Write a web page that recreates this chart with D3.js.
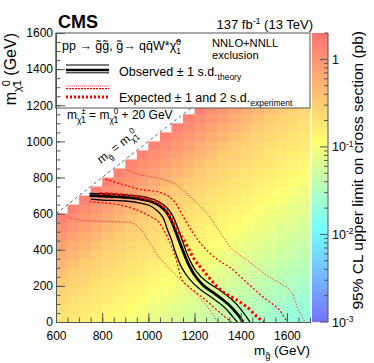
<!DOCTYPE html>
<html>
<head>
<meta charset="utf-8">
<script src="https://cdn.jsdelivr.net/npm/d3@7"></script>
<style>
  body { margin: 0; background: #fff; }
  text { font-family: "Liberation Sans", Arial, Helvetica, sans-serif; fill: #000; }
</style>
</head>
<body>
<svg id="chart" width="374" height="363"></svg>
<script>
// bins (lower edges, GeV) of the limit map, 50 GeV wide
var gluinoBins = [600,650,700,750,800,850,900,950,1000,1050,1100,1150,1200,1250,1300,1350,1400,1450,1500,1550,1600,1650];
var lspBins = [0,50,100,150,200,250,300,350,400,450,500,550,600,650,700,750,800,850,900,950,1000,1050,1100,1150];
// 95% CL upper limit (pb), one row per lsp bin, one entry per gluino bin
var limitRows = [
  [.20,.18,.16,.14,.13,.11,.10,.089,.079,.071,.063,.056,.050,.045,.040,.035,.032,.028,.025,.022,.020,.018],
  [.22,.20,.18,.16,.14,.13,.11,.10,.089,.079,.071,.063,.056,.050,.045,.040,.035,.032,.028,.025,.022,.020],
  [.25,.22,.20,.18,.16,.14,.13,.11,.10,.089,.079,.071,.063,.056,.050,.045,.040,.035,.032,.028,.025,.022],
  [.28,.25,.22,.20,.18,.16,.14,.13,.11,.10,.089,.079,.071,.063,.056,.050,.045,.040,.035,.032,.028,.025],
  [.32,.28,.25,.22,.20,.18,.16,.14,.13,.11,.10,.089,.079,.071,.063,.056,.050,.045,.040,.035,.032,.028],
  [.39,.32,.28,.25,.22,.20,.18,.16,.14,.13,.11,.10,.089,.079,.071,.063,.056,.050,.045,.040,.035,.032],
  [.49,.39,.32,.28,.25,.22,.20,.18,.16,.14,.13,.11,.10,.089,.079,.071,.063,.056,.050,.045,.040,.035],
  [.60,.49,.39,.32,.28,.25,.22,.20,.18,.16,.14,.13,.11,.10,.089,.079,.071,.063,.056,.050,.045,.040],
  [.76,.60,.49,.39,.32,.28,.25,.22,.20,.18,.16,.14,.13,.11,.10,.089,.079,.071,.063,.056,.050,.045],
  [.93,.76,.60,.49,.39,.32,.28,.25,.22,.20,.18,.16,.14,.13,.11,.10,.089,.079,.071,.063,.056,.050],
  [1.15,.93,.76,.60,.49,.39,.32,.28,.25,.22,.20,.18,.16,.14,.13,.11,.10,.089,.079,.071,.063,.056],
  [1.45,1.15,.93,.76,.60,.49,.39,.32,.28,.25,.22,.20,.18,.16,.14,.13,.11,.10,.089,.079,.071,.063],
  [null,1.45,1.15,.93,.76,.60,.49,.39,.32,.28,.25,.22,.20,.18,.16,.14,.13,.11,.10,.089,.079,.071],
  [null,null,1.45,1.15,.93,.76,.60,.49,.39,.32,.28,.25,.22,.20,.18,.16,.14,.13,.11,.10,.089,.079],
  [null,null,null,1.45,1.15,.93,.76,.60,.49,.39,.32,.28,.25,.22,.20,.18,.16,.14,.13,.11,.10,.089],
  [null,null,null,null,1.45,1.15,.93,.76,.60,.49,.39,.32,.28,.25,.22,.20,.18,.16,.14,.13,.11,.10],
  [null,null,null,null,null,1.45,1.15,.93,.76,.60,.49,.39,.32,.28,.25,.22,.20,.18,.16,.14,.13,.11],
  [null,null,null,null,null,null,1.45,1.15,.93,.76,.60,.49,.39,.32,.28,.25,.22,.20,.18,.16,.14,.13],
  [null,null,null,null,null,null,null,1.45,1.15,.93,.76,.60,.49,.39,.32,.28,.25,.22,.20,.18,.16,.14],
  [null,null,null,null,null,null,null,null,1.45,1.15,.93,.76,.60,.49,.39,.32,.28,.25,.22,.20,.18,.16],
  [null,null,null,null,null,null,null,null,null,1.45,1.15,.93,.76,.60,.49,.39,.32,.28,.25,.22,.20,.18],
  [null,null,null,null,null,null,null,null,null,null,1.45,1.15,.93,.76,.60,.49,.39,.32,.28,.25,.22,.20],
  [null,null,null,null,null,null,null,null,null,null,null,1.45,1.15,.93,.76,.60,.49,.39,.32,.28,.25,.22],
  [null,null,null,null,null,null,null,null,null,null,null,null,1.45,1.15,.93,.76,.60,.49,.39,.32,.28,.25]
];
var binWidth = 50;

// exclusion contours [m_gluino, m_lsp]
var observed = [[745,700],[800,697],[900,690],[960,682],[1010,668],[1050,643],[1080,605],[1100,560],[1120,495],[1145,410],[1170,330],[1200,260],[1240,200],[1290,155],[1345,100],[1385,45],[1410,0]];
var observedUp = [[745,712],[800,710],[900,703],[970,695],[1030,675],[1070,645],[1100,600],[1125,530],[1150,440],[1175,355],[1205,285],[1250,225],[1305,180],[1365,120],[1410,55],[1440,0]];
var observedDown = [[750,680],[800,675],[900,670],[960,660],[1005,645],[1040,615],[1065,575],[1080,520],[1100,455],[1120,375],[1145,300],[1180,235],[1225,180],[1280,130],[1330,80],[1365,30],[1385,0]];
var expected = [[790,712],[850,708],[920,700],[970,688],[1020,672],[1055,650],[1080,615],[1100,570],[1120,520],[1140,480],[1170,415],[1200,345],[1235,290],[1280,220],[1325,165],[1385,120],[1430,80],[1470,30],[1500,0]];
var expectedUp1 = [[815,790],[880,765],[960,735],[1050,718],[1105,678],[1150,585],[1195,490],[1240,415],[1300,345],[1355,300],[1425,220],[1495,140],[1565,70],[1600,0]];
var expectedDown1 = [[745,668],[800,660],[880,648],[960,615],[1000,590],[1040,560],[1070,500],[1095,435],[1115,370],[1130,300],[1145,235],[1175,195],[1210,160],[1250,120],[1285,80],[1320,40],[1360,0]];
var expectedUp2 = [[900,845],[960,818],[1020,802],[1100,775],[1145,735],[1180,692],[1220,645],[1255,600],[1290,535],[1325,470],[1355,415],[1385,380],[1430,340],[1500,270],[1570,215],[1615,175],[1645,85],[1678,0]];
var expectedDown2 = [[650,580],[700,565],[800,557],[890,553],[930,548],[960,520],[990,470],[1010,430],[1040,370],[1080,310],[1120,260],[1160,210],[1200,165],[1240,110],[1270,60],[1300,0]];

// axis ticks
var xTicks = [600,800,1000,1200,1400,1600];
var yTicks = [0,200,400,600,800,1000,1200,1400,1600];
var zTicks = [0.001,0.01,0.1,1];
var zLabels = [["10","-3"],["10","-2"],["10","-1"],["1",""]];

var svg = d3.select("#chart");
var x = d3.scaleLinear().domain([600,1700]).range([56,310]);
var y = d3.scaleLinear().domain([0,1600]).range([322,33]);
var zPos = d3.scaleLog().domain([0.001,2]).range([322,33]);
var colour = d3.scaleLog()
  .domain([0.001,0.0112,0.112,2])
  .range(["#7373ff","#73ffff","#ffff73","#ff7373"])
  .clamp(true);

// helper for text with sub/superscripts
function richText(sel, parts, fs) {
  var shift = 0;
  parts.forEach(function(p) {
    var kind = p[1] || "";
    var target = kind == "sup" ? -0.38*fs : (kind == "sub" || kind == "bsub") ? 0.3*fs : 0;
    var ts = sel.append("tspan").text(p[0]).attr("dy", target - shift);
    if (kind) ts.style("font-size", (0.68*fs) + "px");
    if (kind == "bsub") ts.attr("dx", -0.68*fs*0.56*(p[2] || 1));
    shift = target;
  });
  return sel;
}

// limit map cells
var cells = [];
limitRows.forEach(function(row, i) {
  row.forEach(function(v, j) {
    if (v != null) cells.push({mg: gluinoBins[j], ml: lspBins[i], v: v});
  });
});
svg.append("g")
  .selectAll("rect")
  .data(cells)
  .enter().append("rect")
    .attr("x", function(d) { return x(d.mg); })
    .attr("y", function(d) { return y(d.ml + binWidth); })
    .attr("width", x(binWidth + 600) - x(600) + 0.4)
    .attr("height", y(0) - y(binWidth) + 0.4)
    .attr("fill", function(d) { return colour(d.v); });

// diagonal m_gluino = m_lsp
svg.append("line")
  .attr("x1", x(600)).attr("y1", y(600))
  .attr("x2", x(1600)).attr("y2", y(1600))
  .attr("stroke", "#666").attr("stroke-width", 1).attr("stroke-dasharray", "3,3");

// contours
var line = d3.line()
  .x(function(d) { return x(d[0]); })
  .y(function(d) { return y(d[1]); })
  .curve(d3.curveCatmullRom.alpha(0.5));
var curves = [
  {d: expectedUp2, c: "#ff3030", w: 0.9, dash: "1.5,1.5"},
  {d: expectedDown2, c: "#ff3030", w: 0.9, dash: "1.5,1.5"},
  {d: expectedUp1, c: "#ff0000", w: 1.3, dash: "2,2"},
  {d: expectedDown1, c: "#ff0000", w: 1.3, dash: "2,2"},
  {d: observedUp, c: "#000", w: 1.3, dash: null},
  {d: observedDown, c: "#000", w: 1.3, dash: null},
  {d: observed, c: "#000", w: 2.8, dash: null},
  {d: expected, c: "#ff0000", w: 3, dash: "2.5,2.5"}
];
svg.append("g")
  .selectAll("path")
  .data(curves)
  .enter().append("path")
    .attr("d", function(d) { return line(d.d); })
    .attr("fill", "none")
    .attr("stroke", function(d) { return d.c; })
    .attr("stroke-width", function(d) { return d.w; })
    .attr("stroke-dasharray", function(d) { return d.dash; });

// diagonal label
richText(svg.append("text")
  .attr("transform", "translate(101,164) rotate(-38)")
  .style("font-size", "12px"),
  [["m",""],["g\u0303","sub"],[" = m",""],["\u03c7\u0303","sub"],["0","sup"],["1","bsub"]], 12);

// mass splitting note
richText(svg.append("text")
  .attr("x", 67).attr("y", 119)
  .style("font-size", "12px"),
  [["m",""],["\u03c7\u0303","sub"],["\u00b1","sup"],["1","bsub"],[" = m",""],["\u03c7\u0303","sub"],["0","sup"],["1","bsub"],[" + 20 GeV",""]], 12);

// legend box
svg.append("rect")
  .attr("x", 56).attr("y", 33).attr("width", 254).attr("height", 75)
  .attr("fill", "#fff").attr("stroke", "#555").attr("stroke-width", 1);

richText(svg.append("text").attr("x", 62).attr("y", 50).style("font-size", "12.5px"),
  [["pp \u2192 g\u0303g\u0303, g\u0303\u2192 qq\u0304W*\u03c7\u0303",""],["0","sup"],["1","bsub"]], 12.5);
svg.append("text").attr("x", 212).attr("y", 47).style("font-size", "11.2px").text("NNLO+NNLL");
svg.append("text").attr("x", 212).attr("y", 59).style("font-size", "11.2px").text("exclusion");

var legendLines = [
  {y: 65, c: "#000", w: 1.2, dash: null},
  {y: 70, c: "#000", w: 2.6, dash: null},
  {y: 72.8, c: "#000", w: 1, dash: null},
  {y: 86, c: "#ff5050", w: 1, dash: "1,1"},
  {y: 88.6, c: "#ff0000", w: 1.2, dash: "2,1"},
  {y: 97, c: "#ff0000", w: 3, dash: "2,2"}
];
svg.append("g")
  .selectAll("line")
  .data(legendLines)
  .enter().append("line")
    .attr("x1", 66).attr("x2", 109)
    .attr("y1", function(d) { return d.y; })
    .attr("y2", function(d) { return d.y; })
    .attr("stroke", function(d) { return d.c; })
    .attr("stroke-width", function(d) { return d.w; })
    .attr("stroke-dasharray", function(d) { return d.dash; });

richText(svg.append("text").attr("x", 119).attr("y", 76).style("font-size", "12.5px"),
  [["Observed \u00b1 1 s.d.",""],["theory","sub"]], 12.5);
richText(svg.append("text").attr("x", 119).attr("y", 102).style("font-size", "12.5px"),
  [["Expected \u00b1 1 and 2 s.d.",""],["experiment","sub"]], 12.5);

// axes
var xAxis = svg.append("g")
  .attr("transform", "translate(0,322)")
  .call(d3.axisBottom(x).tickValues(xTicks).tickFormat(d3.format("d")).tickSize(-9).tickSizeOuter(0).tickPadding(9));
xAxis.append("g")
  .call(d3.axisBottom(x).tickValues(d3.range(650,1700,50)).tickSize(-4.5).tickFormat(""));
var yAxis = svg.append("g")
  .attr("transform", "translate(56,0)")
  .call(d3.axisLeft(y).tickValues(yTicks).tickFormat(d3.format("d")).tickSize(-9).tickSizeOuter(0).tickPadding(3));
yAxis.append("g")
  .call(d3.axisLeft(y).tickValues(d3.range(50,1600,50)).tickSize(-4.5).tickFormat(""));
svg.selectAll(".domain").attr("stroke", "#555");
svg.selectAll(".tick line").attr("stroke", "#555");
svg.selectAll(".tick text").style("font-size", "12px").style("font-family", "Liberation Sans, Arial, sans-serif").attr("fill", "#000");
// legend box hides the upper part of the frame again
svg.append("line").attr("x1", 56).attr("x2", 56).attr("y1", 33).attr("y2", 108).attr("stroke", "#555");

// colour bar
var barSteps = d3.range(33, 322, 1);
svg.append("g")
  .selectAll("rect")
  .data(barSteps)
  .enter().append("rect")
    .attr("x", 312).attr("width", 16)
    .attr("y", function(d) { return d; })
    .attr("height", 1.2)
    .attr("fill", function(d) { return colour(zPos.invert(d + 0.5)); });
svg.append("line").attr("x1", 328).attr("x2", 328).attr("y1", 33).attr("y2", 322).attr("stroke", "#555");
var minorZ = [];
[0.001,0.01,0.1,1].forEach(function(dec) {
  for (var m = 2; m <= 9; m++) if (dec*m <= 2) minorZ.push(dec*m);
});
svg.append("g").selectAll("line").data(minorZ).enter().append("line")
  .attr("x1", 324).attr("x2", 328)
  .attr("y1", function(d) { return zPos(d); }).attr("y2", function(d) { return zPos(d); })
  .attr("stroke", "#555");
svg.append("g").selectAll("line").data(zTicks).enter().append("line")
  .attr("x1", 320).attr("x2", 328)
  .attr("y1", function(d) { return zPos(d); }).attr("y2", function(d) { return zPos(d); })
  .attr("stroke", "#555");
zTicks.forEach(function(t, i) {
  richText(svg.append("text").attr("x", 332).attr("y", zPos(t) + 4.5).style("font-size", "12.5px"),
    [[zLabels[i][0], ""], [zLabels[i][1], "sup"]], 12.5);
});

// titles
svg.append("text").attr("x", 58).attr("y", 28)
  .style("font-size", "18px").style("font-weight", "bold").text("CMS");
richText(svg.append("text").attr("x", 313).attr("y", 29).attr("text-anchor", "end").style("font-size", "13px"),
  [["137 fb",""],["-1","sup"],[" (13 TeV)",""]], 13);
richText(svg.append("text").attr("x", 310).attr("y", 355).attr("text-anchor", "end").style("font-size", "13.5px"),
  [["m",""],["g\u0303","sub"],[" (GeV)",""]], 13.5);
richText(svg.append("text").attr("transform", "translate(16,33) rotate(-90)").attr("text-anchor", "end").style("font-size", "16px"),
  [["m",""],["\u03c7\u0303","sub"],["0","sup"],["1","bsub"],[" (GeV)",""]], 16);
svg.append("text").attr("transform", "translate(363,31) rotate(-90)").attr("text-anchor", "end")
  .style("font-size", "15.5px").text("95% CL upper limit on cross section (pb)");
</script>
</body>
</html>
